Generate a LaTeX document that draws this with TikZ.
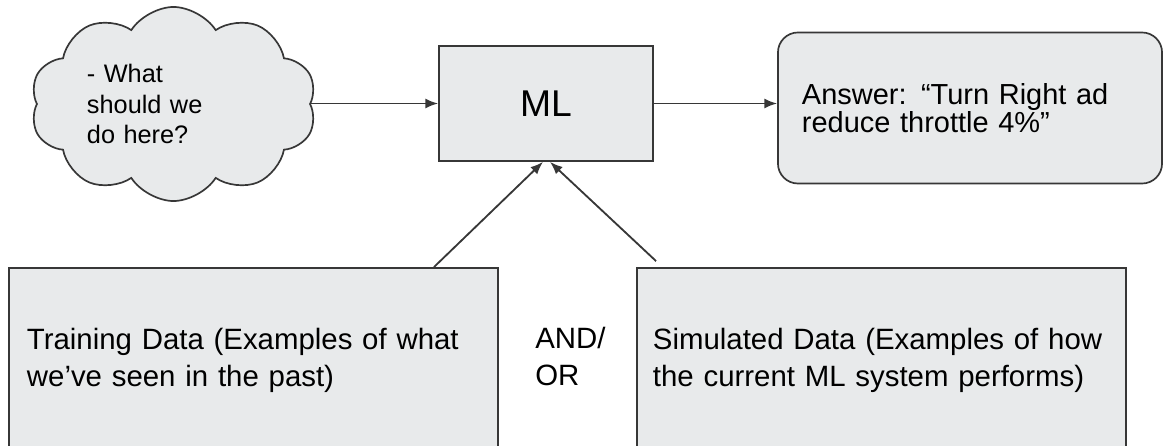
\documentclass[tikz,border=0pt]{standalone}
\usepackage{fontspec}
\setmainfont{Liberation Sans}
\usetikzlibrary{shapes.symbols,calc,arrows.meta}
\definecolor{boxfill}{RGB}{232,234,235}
\definecolor{boxline}{RGB}{55,55,55}
\tikzset{
  box/.style={draw=boxline,fill=boxfill,line width=1.2pt,inner sep=0pt},
  bodytext/.style={font=\fontsize{20.9}{26.3}\selectfont,align=left},
  link/.style={draw=boxline,line width=1.3pt,-{Latex[length=9pt,width=7pt]}}
}
\begin{document}
\begin{tikzpicture}[x=0.025cm,y=-0.025cm]
  \clip (0,0) rectangle (1163,446);
  \node[box,cloud,cloud puffs=10,cloud puff arc=115,cloud ignores aspect,minimum width=7.15cm,minimum height=4.85cm,text width=4.325cm,align=left,font=\fontsize{18}{21.7}\selectfont] (query) at (173.5,104) {- What\\should we\\do here?};
  \node[box,minimum width=5.35cm,minimum height=2.875cm,font=\fontsize{26.5}{30}\selectfont] (ml) at (546,103.5) {ML};
  \node[box,rounded corners=0.5cm,minimum width=9.6cm,minimum height=3.775cm,text width=8.4cm,align=left,font=\fontsize{20.6}{20}\selectfont] (answer) at (970,108) {Answer: “Turn Right ad\\reduce throttle 4\%”};
  \node[box,bodytext,minimum width=12.225cm,minimum height=4.6cm,text width=11.325cm] (train) at (253.5,360) {Training Data (Examples of what\\we’ve seen in the past)};
  \node[box,bodytext,minimum width=12.225cm,minimum height=4.6cm,text width=11.425cm] (sim) at (881.5,360) {Simulated Data (Examples of how\\the current ML system performs)};
  \node[bodytext,anchor=base west,inner sep=0pt] (andor) at (535,385) {AND/\\OR};

  \coordinate (traintail) at ($(train.north east)+(-65,0)$);
  \coordinate (simtail) at ($(sim.north west)+(20,-6)$);
  \draw[link] (query.east |- ml.west) -- (ml.west);
  \draw[link] (ml.east) -- (ml.east -| answer.west);
  \draw[link] (traintail) -- ($(ml.south)+(-3,0)$);
  \draw[link] (simtail) -- ($(ml.south)+(4,0)$);
\end{tikzpicture}
\end{document}
